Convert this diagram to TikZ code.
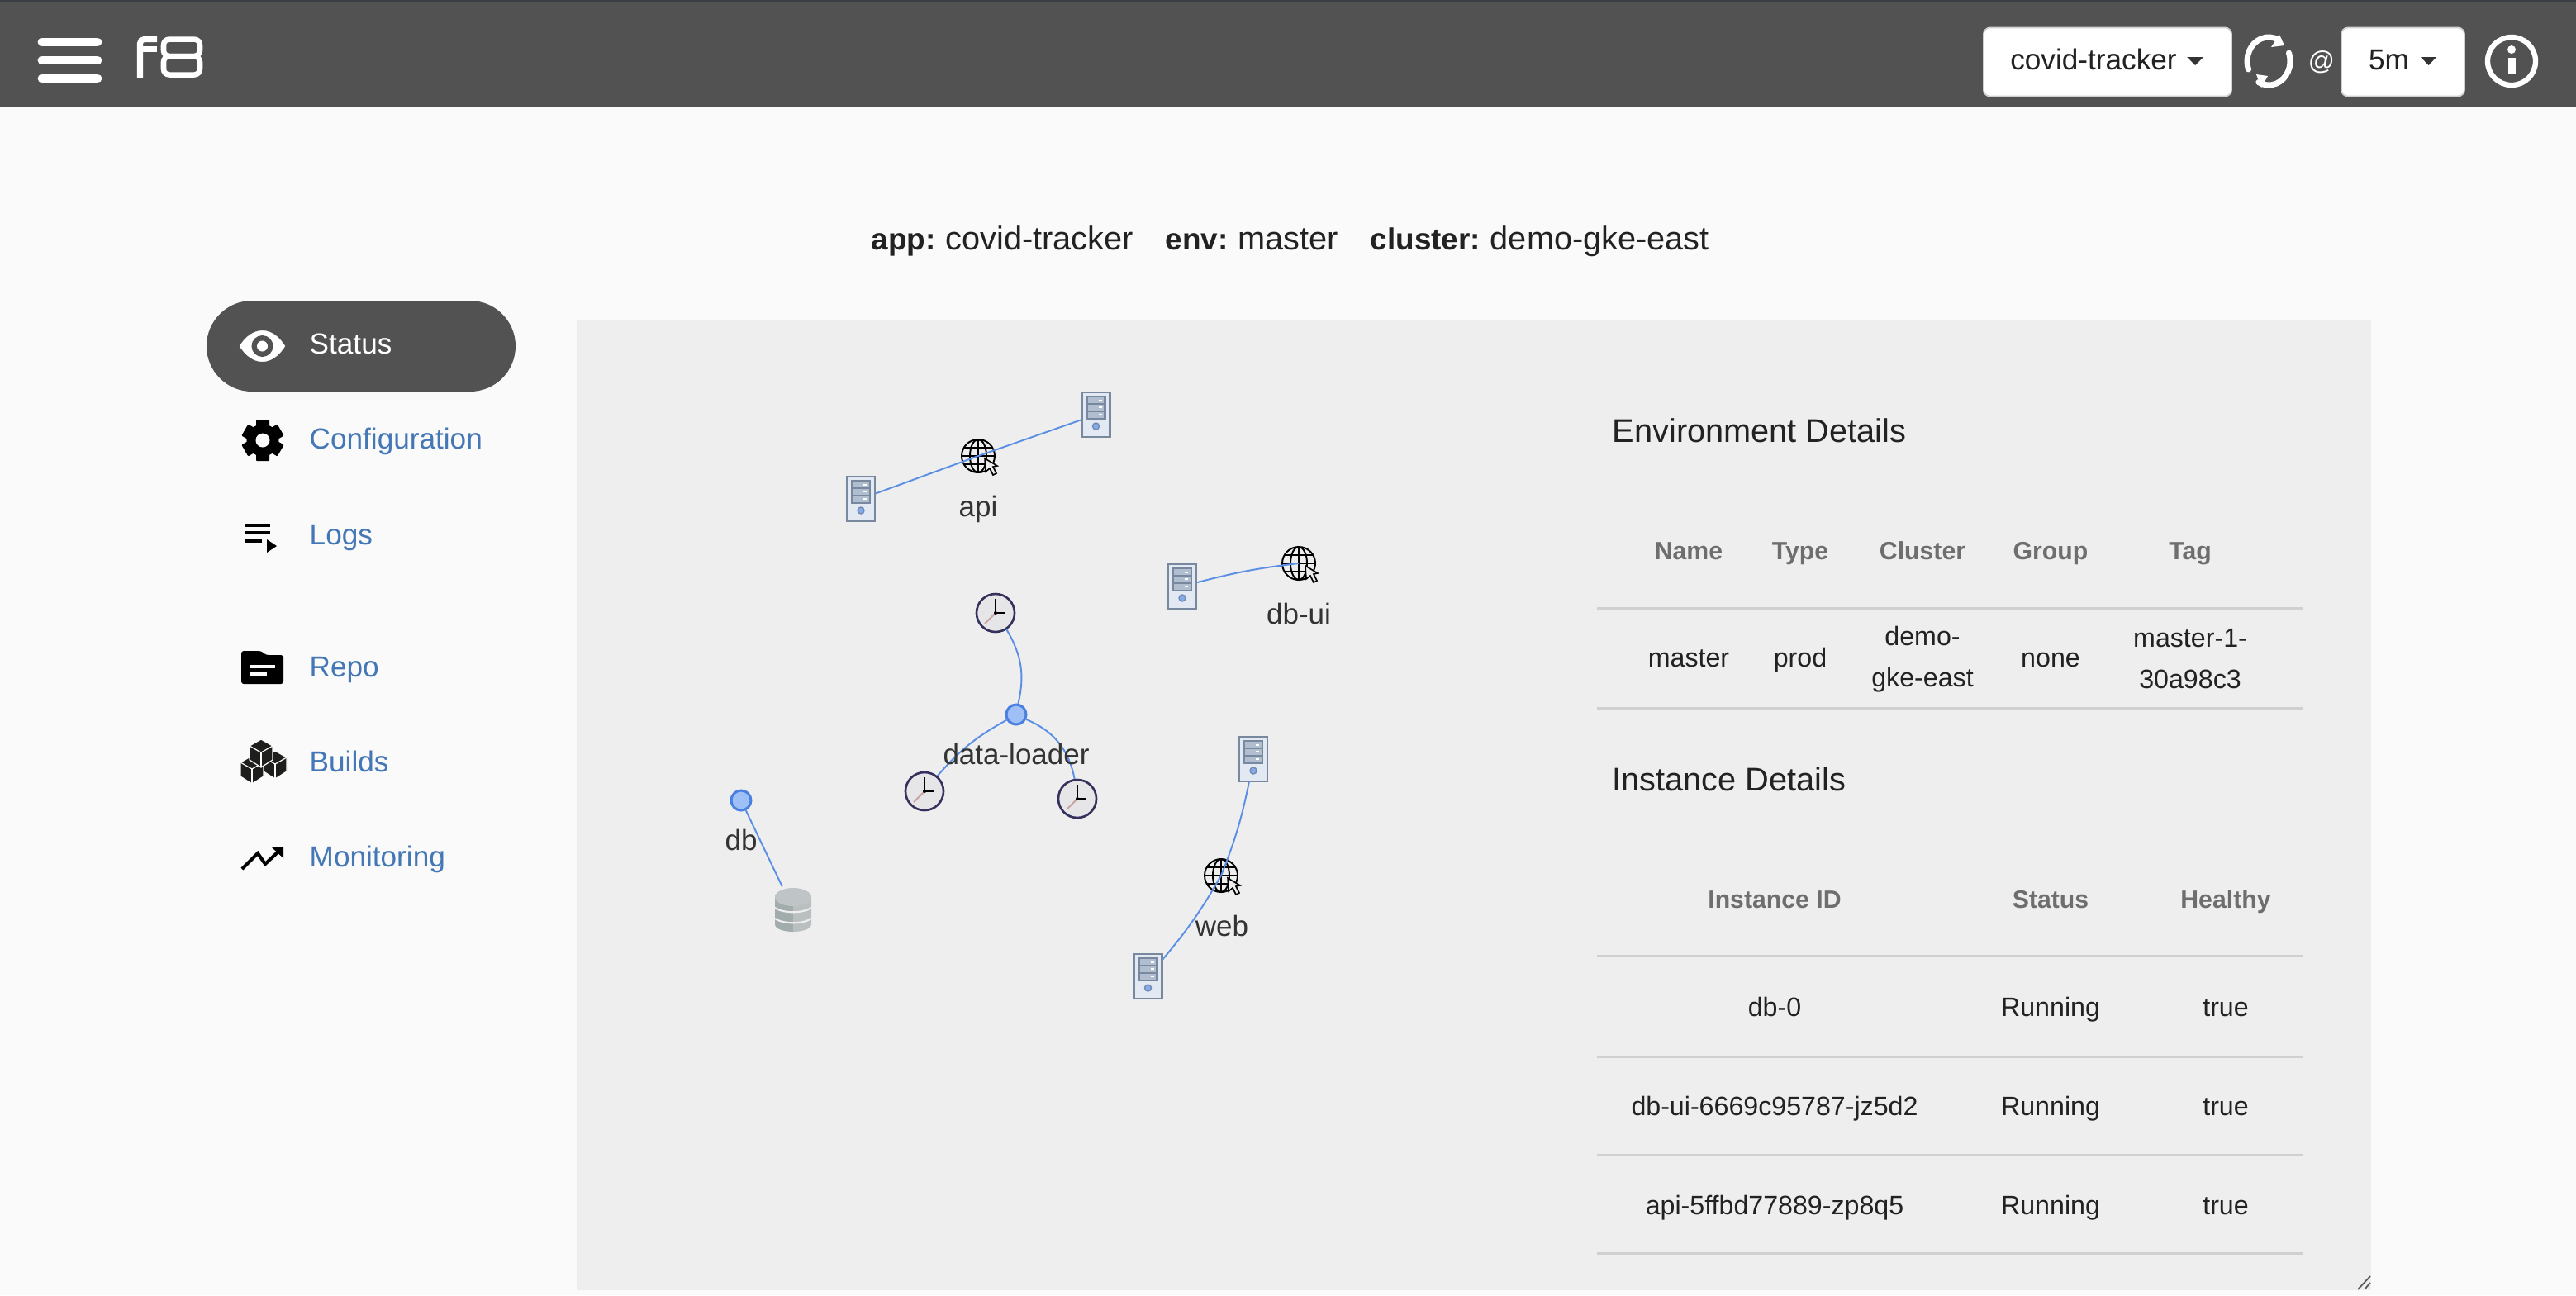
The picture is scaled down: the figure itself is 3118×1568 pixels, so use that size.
\documentclass[tikz,border=0pt]{standalone}
\usepackage{fontspec}
\setmainfont{Liberation Sans}

\definecolor{pagebg}{HTML}{FAFAFA}
\definecolor{panelbg}{HTML}{EEEEEE}
\definecolor{barbg}{HTML}{525252}
\definecolor{barline}{HTML}{3B3E44}
\definecolor{linkblue}{HTML}{4477B6}
\definecolor{wireblue}{HTML}{5B8FE6}
\definecolor{rulegray}{HTML}{D0D0D0}
\definecolor{headgray}{HTML}{6E6E6E}
\definecolor{inkgray}{HTML}{222222}
\definecolor{rackfill}{HTML}{B1BED0}
\definecolor{rackline}{HTML}{78889F}
\definecolor{serverfill}{HTML}{E3E9F2}
\definecolor{handred}{HTML}{CBA6A6}
\definecolor{cubeink}{HTML}{1E1E1C}
\definecolor{clockline}{HTML}{35305C}
\definecolor{clockfill}{HTML}{E6E6E8}
\definecolor{dotline}{HTML}{4A80E0}
\definecolor{dotfill}{HTML}{9FC0F7}
\definecolor{storeleft}{HTML}{A3ACAC}
\definecolor{storeright}{HTML}{BAC0C0}
\definecolor{storetop}{HTML}{BFC4C6}

\newcommand{\crumbkey}[1]{\textbf{\fontsize{10.5}{13}\selectfont #1}\hspace{-0.03cm}}

% server icon: name, position
\newcommand{\servernode}[2]{
	\node (#1) [Server] at (#2) {};
	\begin{scope}[shift={(#1.center)}]
		\draw [fill=rackfill, draw=rackline, line width=0.6pt] (-11,-22) rectangle (11,5);
		\draw [rackline, line width=0.5pt] (-11,-13) -- (11,-13);
		\draw [rackline, line width=0.5pt] (-11,-4) -- (11,-4);
		\draw [white, line width=0.4pt] (3,-17) -- (7,-17);
		\draw [white, line width=0.4pt] (3,-9) -- (7,-9);
		\draw [white, line width=0.4pt] (3,0) -- (7,0);
		\fill [fill=wireblue!75, draw=wireblue!60!black!70, line width=0.4pt] (0,14) circle (0.04cm);
	\end{scope}
}
% globe icon with pointer: name, position
\newcommand{\globenode}[2]{
	\node (#1) [Globe] at (#2) {};
	\begin{scope}[shift={(#1.center)}, black, line width=0.55pt]
		\draw (0,0) ellipse (0.1cm and 0.2cm);
		\draw (0,-20) -- (0,20);
		\draw (-20,0) -- (20,0);
		\draw (-17,-10) -- (17,-10);
		\draw (-17,10) -- (17,10);
		\draw [fill=panelbg, line width=0.45pt] (8,3) -- (9,19) -- (14,15) -- (18,23) -- (22,21) -- (18,13) -- (23,12) -- cycle;
	\end{scope}
}
% clock icon: name, position
\newcommand{\clocknode}[2]{
	\node (#1) [Clock] at (#2) {};
	\begin{scope}[shift={(#1.center)}]
		\draw [handred, line width=0.6pt] (0,0) -- (-13,13);
		\draw [black, line width=0.45pt] (0,0) -- (0,-17);
		\draw [black, line width=0.45pt] (0,0) -- (11,0);
		\fill [black] (0,0) circle (0.02cm);
	\end{scope}
}
% one cube of the builds icon: centre
\newcommand{\cubeicon}[1]{
	\begin{scope}[shift={(#1)}]
		\draw [fill=cubeink, draw=pagebg, line width=0.35pt] (0,-17) -- (14,-9) -- (14,8) -- (0,17) -- (-14,8) -- (-14,-9) -- cycle;
		\draw [pagebg, line width=0.35pt] (-14,-9) -- (0,-1) -- (14,-9);
		\draw [pagebg, line width=0.35pt] (0,-1) -- (0,17);
	\end{scope}
}

\begin{document}
\begin{tikzpicture}[x=0.01cm, y=-0.01cm]
	\tikzstyle{Server} = [rectangle, minimum width=0.34cm, minimum height=0.54cm, inner sep=0pt, draw=rackline, fill=serverfill, line width=0.6pt]
	\tikzstyle{Globe} = [circle, minimum size=0.4cm, inner sep=0pt, draw=black, line width=0.55pt]
	\tikzstyle{Clock} = [circle, minimum size=0.46cm, inner sep=0pt, draw=clockline, fill=clockfill, line width=0.75pt]
	\tikzstyle{Dot} = [circle, minimum size=0.24cm, inner sep=0pt, draw=dotline, fill=dotfill, line width=0.85pt]
	\tikzstyle{Store} = [rectangle, minimum width=0.46cm, minimum height=0.54cm, inner sep=0pt]
	\tikzstyle{Label} = [inner sep=0pt, text=black!80, font=\fontsize{9.95}{12}\selectfont, text height=0.72em, text depth=0.2em]
	\tikzstyle{Side} = [anchor=west, inner sep=0pt, text=linkblue, font=\fontsize{10}{12}\selectfont, text height=0.72em, text depth=0.2em]
	\tikzstyle{Head} = [inner sep=0pt, text=headgray, font=\bfseries\fontsize{8.6}{12}\selectfont, text height=0.72em, text depth=0.2em]
	\tikzstyle{Cell} = [inner sep=0pt, text=inkgray, font=\fontsize{9.15}{14.2}\selectfont, text height=0.72em, text depth=0.2em]
	\tikzstyle{Wrapped} = [inner sep=0pt, align=center, text=inkgray, font=\fontsize{9.15}{14.2}\selectfont]
	\tikzstyle{Section} = [anchor=west, inner sep=0pt, text=inkgray, font=\fontsize{11.3}{13}\selectfont, text height=0.72em, text depth=0.2em]
	\tikzstyle{Crumb} = [anchor=west, inner sep=0pt, text=inkgray, font=\fontsize{11.3}{13}\selectfont, text height=0.72em, text depth=0.2em]
	\tikzstyle{Menu} = [rectangle, rounded corners=0.08cm, inner sep=0pt, fill=white, draw=rulegray, line width=0.5pt, minimum height=0.83cm, text=inkgray, font=\fontsize{10}{12}\selectfont, text height=0.72em, text depth=0.2em]
	\tikzstyle{wire} = [wireblue, line width=0.55pt]
	\tikzstyle{tablerule} = [rulegray, line width=0.85pt]

	% page, bar and panel
	\fill [pagebg] (0,0) rectangle (3118,1568);
	\fill [barbg] (0,0) rectangle (3118,129);
	\fill [barline] (0,0) rectangle (3118,3);
	\fill [panelbg] (698,388) rectangle (2870,1562);
	\draw [black!65, line width=0.5pt] (2854,1561) -- (2869,1545);
	\draw [black!65, line width=0.5pt] (2862,1561) -- (2869,1553);

	% bar, left
	\draw [white, line width=3.1pt, line cap=round] (51,51) -- (118,51);
	\draw [white, line width=3.1pt, line cap=round] (51,73) -- (118,73);
	\draw [white, line width=3.1pt, line cap=round] (51,95) -- (118,95);
	\draw [white, line width=2pt, rounded corners=0.05cm] (169.5,94) -- (169.5,47.5) -- (190,47.5);
	\draw [white, line width=2pt] (166,59) -- (190,59);
	\draw [white, line width=1.85pt, rounded corners=0.07cm] (198,47.5) rectangle (242,68);
	\draw [white, line width=1.85pt, rounded corners=0.07cm] (198,68) rectangle (242,90.5);

	% bar, right
	\node (app) [Menu, minimum width=3cm, anchor=west] at (2400,75) {\hspace{-0.34cm}covid-tracker};
	\fill [black!80] (2647,69) -- (2667,69) -- (2657,79) -- cycle;
	\draw [white, line width=2pt, line cap=round] (2746,74) ++(200:0.26cm and 0.29cm) arc[start angle=200, end angle=62, x radius=0.26cm, y radius=0.29cm];
	\fill [white] (2749,57) -- (2759,42) -- (2765,55) -- cycle;
	\draw [white, line width=2pt, line cap=round] (2746,74) ++(20:0.26cm and 0.29cm) arc[start angle=20, end angle=-118, x radius=0.26cm, y radius=0.29cm];
	\fill [white] (2731,90) -- (2737,106) -- (2745,92) -- cycle;
	\node (at) [inner sep=0pt, text=white, font=\fontsize{9}{10}\selectfont] at (2810,75) {@};
	\node (rate) [Menu, minimum width=1.49cm, anchor=west] at (2833,75) {\hspace{-0.34cm}5m};
	\fill [black!80] (2930,69) -- (2949,69) -- (2939.5,79) -- cycle;
	\draw [white, line width=1.8pt] (3040,74) ellipse (0.29cm and 0.29cm);
	\fill [white] (3040,60) circle (0.05cm);
	\fill [white] (3035.5,70) rectangle (3044.5,90);

	% title line
	\node (titleapp) [Crumb] at (1054,293) {\crumbkey{app:} covid-tracker};
	\node (titleenv) [Crumb] at (1410,293) {\crumbkey{env:} master};
	\node (titlecluster) [Crumb] at (1658,293) {\crumbkey{cluster:} demo-gke-east};

	% side menu
	\fill [barbg, rounded corners=0.55cm] (250,364) rectangle (624,474);
	\draw [white, fill=white, line width=0.1pt] (290,419) .. controls (306,394) and (329,394) .. (345,419) .. controls (329,444) and (306,444) .. (290,419);
	\fill [barbg] (317.5,419) circle (0.13cm);
	\fill [white] (317.5,419) circle (0.065cm);
	\node (status) [Side, text=white] at (374,419) {Status};

	\fill [black] (318,533) circle (0.195cm);
	\foreach \ang in {30,90,150,210,270,330}
		\fill [black, rounded corners=0.01cm, rotate around={\ang:(318,533)}] (334,525) rectangle (343,541);
	\fill [pagebg] (318,533) circle (0.085cm);
	\node (config) [Side] at (374,534) {Configuration};

	\fill [black] (297,634) rectangle (327,638);
	\fill [black] (297,643) rectangle (327,647);
	\fill [black] (297,653) rectangle (317,657);
	\fill [black] (323,653) -- (335,661) -- (323,669) -- cycle;
	\node (logs) [Side] at (374,650) {Logs};

	\fill [black, rounded corners=0.03cm] (292,788) -- (316,788) -- (322,793) -- (343,793) -- (343,828) -- (292,828) -- cycle;
	\fill [pagebg] (303,805) rectangle (333,809);
	\fill [pagebg] (303,814) rectangle (323,818);
	\node (repo) [Side] at (374,810) {Repo};

	\cubeicon{333,926}
	\cubeicon{305,932}
	\cubeicon{316,912}
	\node (builds) [Side] at (374,925) {Builds};

	\draw [black, line width=1.15pt] (293,1052) -- (312,1033) -- (321,1046) -- (339,1029);
	\fill [black] (328,1025) -- (343,1025) -- (343,1039) -- cycle;
	\node (monitoring) [Side] at (374,1040) {Monitoring};

	% graph
	\servernode{apia}{1042,604}
	\servernode{apib}{1326.5,502}
	\servernode{uipod}{1431,710}
	\servernode{webpoda}{1517,919}
	\servernode{webpodb}{1389.5,1182}
	\globenode{api}{1184,552}
	\globenode{dbui}{1572,682}
	\globenode{web}{1478,1060}
	\clocknode{jobtop}{1205,742}
	\clocknode{jobleft}{1119,958}
	\clocknode{jobright}{1304,967}
	\node (loader) [Dot] at (1230,865) {};
	\node (db) [Dot] at (897,969) {};
	\node (store) [Store] at (960,1101) {};
	\begin{scope}[shift={(store.center)}]
		\fill [storeleft] (-22,-18) -- (-22,18) .. controls (-22,24) and (-10,27) .. (0,27) -- (0,-18) -- cycle;
		\fill [storeright] (22,-18) -- (22,18) .. controls (22,24) and (10,27) .. (0,27) -- (0,-18) -- cycle;
		\draw [panelbg, line width=0.6pt] (-22,-2) .. controls (-12,5) and (12,5) .. (22,-2);
		\draw [panelbg, line width=0.6pt] (-22,11) .. controls (-12,18) and (12,18) .. (22,11);
		\fill [storetop] (0,-15) ellipse (0.22cm and 0.11cm);
	\end{scope}

	\path (api.center) edge[wire] (apia);
	\path (api.center) edge[wire] (apib);
	\path (uipod) edge[bend left=4, wire] (dbui.center);
	\path (jobtop) edge[bend left=22, wire] (loader);
	\path (loader) edge[bend right=10, wire] (jobleft);
	\path (loader) edge[bend left=28, wire] (jobright);
	\path (db) edge[wire] (store);
	\path (webpoda) edge[bend left=5, wire] (web.center);
	\path (web.center) edge[bend left=5, wire] (webpodb);

	\node (apitext) [Label] at (1184,616) {api};
	\node (dbuitext) [Label] at (1572,746) {db-ui};
	\node (loadertext) [Label] at (1230,916) {data-loader};
	\node (dbtext) [Label] at (897,1020) {db};
	\node (webtext) [Label] at (1479,1124) {web};

	% environment table
	\node (envtitle) [Section] at (1951,526) {Environment Details};
	\node (hname) [Head] at (2044,668) {Name};
	\node (htype) [Head] at (2179,668) {Type};
	\node (hcluster) [Head] at (2327,668) {Cluster};
	\node (hgroup) [Head] at (2482,668) {Group};
	\node (htag) [Head] at (2651,668) {Tag};
	\draw [tablerule] (1933,736) -- (2788,736);
	\node (cname) [Cell] at (2044,798) {master};
	\node (ctype) [Cell] at (2179,798) {prod};
	\node (ccluster) [Wrapped] at (2327,798) {demo-\\gke-east};
	\node (cgroup) [Cell] at (2482,798) {none};
	\node (ctag) [Wrapped] at (2651,798) {master-1-\\30a98c3};
	\draw [tablerule] (1933,857) -- (2788,857);

	% instance table
	\node (insttitle) [Section] at (1951,948) {Instance Details};
	\node (hinst) [Head] at (2148,1090) {Instance ID};
	\node (hstatus) [Head] at (2482,1090) {Status};
	\node (hhealthy) [Head] at (2694,1090) {Healthy};
	\draw [tablerule] (1933,1157) -- (2788,1157);
	\node (rowa) [Cell] at (2148,1221) {db-0};
	\node (rowastatus) [Cell] at (2482,1221) {Running};
	\node (rowahealthy) [Cell] at (2694,1221) {true};
	\draw [tablerule] (1933,1279) -- (2788,1279);
	\node (rowb) [Cell] at (2148,1341) {db-ui-6669c95787-jz5d2};
	\node (rowbstatus) [Cell] at (2482,1341) {Running};
	\node (rowbhealthy) [Cell] at (2694,1341) {true};
	\draw [tablerule] (1933,1398) -- (2788,1398);
	\node (rowc) [Cell] at (2148,1461) {api-5ffbd77889-zp8q5};
	\node (rowcstatus) [Cell] at (2482,1461) {Running};
	\node (rowchealthy) [Cell] at (2694,1461) {true};
	\draw [tablerule] (1933,1517) -- (2788,1517);
	\useasboundingbox (0,0) rectangle (3118,1568);
\end{tikzpicture}
\end{document}
